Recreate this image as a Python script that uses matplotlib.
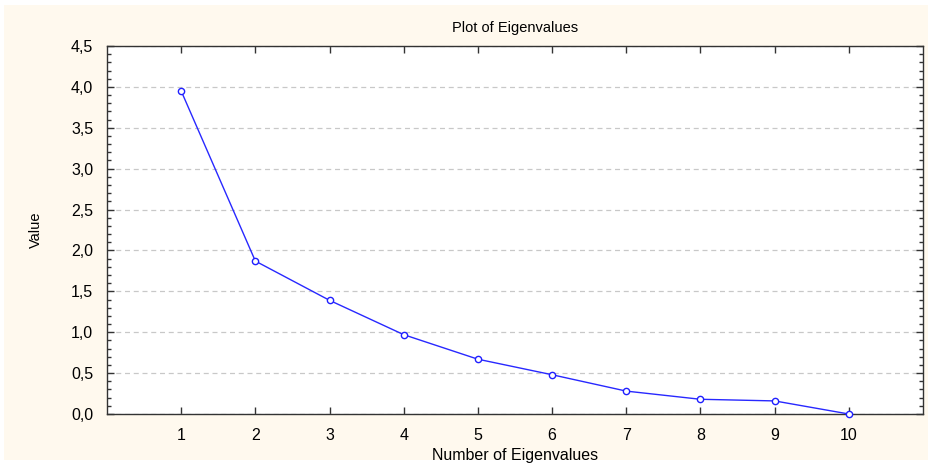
import matplotlib.pyplot as plt
from matplotlib.patches import Rectangle
from matplotlib.ticker import MultipleLocator, FuncFormatter

# data
eigen_num = [1, 2, 3, 4, 5, 6, 7, 8, 9, 10]
eigen_val = [3.95, 1.87, 1.39, 0.97, 0.67, 0.48, 0.28, 0.18, 0.16, 0.0]

plt.rcParams['font.family'] = ['Liberation Sans', 'DejaVu Sans']

fig = plt.figure(figsize=(9.33, 4.65), dpi=100)
fig.patch.set_facecolor('white')
# cream panel behind the plot
fig.patches.append(Rectangle((4 / 933, 5 / 465), 924 / 933, 455 / 465,
                             transform=fig.transFigure, facecolor='#fff9ee',
                             edgecolor='none', zorder=-10))

ax = fig.add_axes([107 / 933, 1 - 414 / 465, 816 / 933, 368 / 465])
ax.set_facecolor('white')

ax.plot(eigen_num, eigen_val, color='#2828ff', lw=1.0, marker='o', ms=4.5,
        mfc='white', mec='#2020ff', mew=1.0, clip_on=False, zorder=3)

ax.set_xlim(0, 11)
ax.set_ylim(0, 4.5)
ax.set_xticks(eigen_num)
ax.yaxis.set_major_locator(MultipleLocator(0.5))
ax.yaxis.set_minor_locator(MultipleLocator(0.1))
ax.yaxis.set_major_formatter(FuncFormatter(lambda v, p: f"{v:.1f}".replace('.', ',')))

ax.tick_params(axis='both', which='both', direction='in', top=True, right=True,
               labelsize=11.5, color='#333333')
ax.tick_params(axis='both', which='major', length=5, width=1)
ax.tick_params(axis='y', which='minor', length=3, width=1)
ax.tick_params(axis='x', pad=10)
ax.tick_params(axis='y', pad=10)

ax.grid(axis='y', which='major', linestyle=(0, (4, 3)), color='#c8c8c8', lw=0.9)
ax.set_axisbelow(True)
for s in ax.spines.values():
    s.set_color('#333333')
    s.set_linewidth(1.0)

fig.text(0.5 * (107 + 923) / 933, 1 - 28 / 465, 'Plot of Eigenvalues',
         ha='center', va='center', fontsize=10.5)
fig.text(0.5 * (107 + 923) / 933, 1 - 455 / 465, 'Number of Eigenvalues',
         ha='center', va='center', fontsize=11.5)
fig.text(36 / 933, 1 - 230 / 465, 'Value', ha='center', va='center',
         rotation=90, fontsize=10.5)

plt.savefig('out.png', dpi=100, facecolor=fig.get_facecolor())
